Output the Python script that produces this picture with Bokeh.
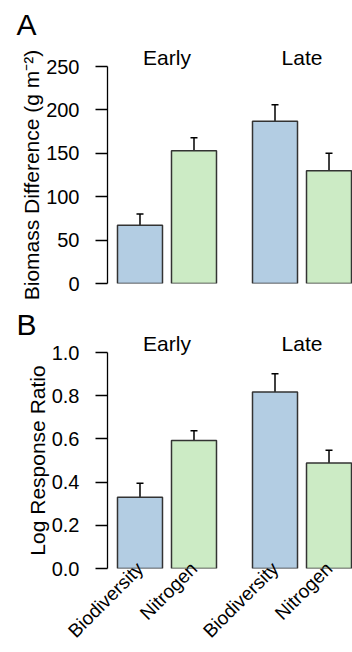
import math
from bokeh.plotting import figure
from bokeh.models import (Range1d, FixedTicker, PrintfTickFormatter, Whisker, TeeHead,
                          ColumnDataSource, LinearAxis)
from bokeh.layouts import column
from bokeh.embed import file_html
from bokeh.resources import INLINE

# ---------------- data ----------------
periods = ["Early", "Late"]
treatments = ["Biodiversity", "Nitrogen"]
bar_period = ["Early", "Early", "Late", "Late"]
bar_treatment = ["Biodiversity", "Nitrogen", "Biodiversity", "Nitrogen"]
biomass_mean = [67, 153, 187, 130]
biomass_se = [13, 15, 19, 20]
lrr_mean = [0.33, 0.593, 0.817, 0.488]
lrr_se = [0.065, 0.045, 0.085, 0.06]
biomass_ticks = [0, 50, 100, 150, 200, 250]
lrr_ticks = [0.0, 0.2, 0.4, 0.6, 0.8, 1.0]

# ---------------- styling ----------------
FONT = "Liberation Sans"
colors = {"Biodiversity": "#b3cde3", "Nitrogen": "#ccebc5"}
EDGE = "#333333"

# bar positions like R barplot(beside=TRUE, space=c(0.2,0.8))
within, between, bw = 0.2, 0.8, 1.0
xs = []
cur = 0.0
prev = None
for per in bar_period:
    gap = within if per == prev else between
    left = cur + gap
    xs.append(left + bw / 2)
    cur = left + bw
    prev = per
group_centers = [sum(x for x, p in zip(xs, bar_period) if p == g) /
                 bar_period.count(g) for g in periods]


def bare_axis(ticks, labels, size):
    a = LinearAxis(ticker=FixedTicker(ticks=ticks),
                   major_label_overrides={t: l for t, l in zip(ticks, labels)})
    a.axis_line_color = None
    a.major_tick_line_color = None
    a.minor_tick_line_color = None
    a.major_tick_out = 0
    a.major_tick_in = 0
    a.minor_tick_out = 0
    a.minor_tick_in = 0
    a.major_label_text_font = FONT
    a.major_label_text_font_size = size
    a.major_label_text_color = "black"
    return a


def make_panel(letter, means, ses, ylim, ticks, ylabel, lab_size, fmt, height,
               top_border, bottom_border, title_standoff, show_xlabels):
    p = figure(width=352, height=height, output_backend="svg", toolbar_location=None,
               x_range=Range1d(0.578, 6.022), y_range=Range1d(*ylim),
               x_axis_location=None, min_border_left=107, min_border_right=0,
               min_border_top=top_border, min_border_bottom=bottom_border)
    p.outline_line_color = None
    p.grid.visible = False
    p.background_fill_color = "white"
    p.border_fill_color = "white"

    p.title.text = letter
    p.title.text_font = FONT
    p.title.text_font_size = "30px"
    p.title.text_font_style = "normal"
    p.title.text_color = "black"
    p.title.align = "left"
    p.title.offset = -91
    p.title.standoff = title_standoff

    src = ColumnDataSource(dict(
        x=xs, top=means, upper=[m + s for m, s in zip(means, ses)],
        color=[colors[t] for t in bar_treatment]))
    p.vbar(x="x", top="top", bottom=0, width=bw, source=src, fill_color="color",
           line_color=EDGE, line_width=1.5)
    w = Whisker(base="x", lower="top", upper="upper", source=src, dimension="height",
                line_color="black", line_width=1.5,
                upper_head=TeeHead(size=7, line_color="black", line_width=1.5),
                lower_head=None)
    p.add_layout(w)

    ax = p.yaxis[0]
    ax.ticker = FixedTicker(ticks=ticks)
    ax.formatter = PrintfTickFormatter(format=fmt)
    ax.axis_label = ylabel
    ax.axis_label_text_font = FONT
    ax.axis_label_text_font_size = lab_size
    ax.axis_label_text_font_style = "normal"
    ax.axis_label_text_color = "black"
    ax.axis_label_standoff = 0
    ax.major_label_text_font = FONT
    ax.major_label_text_font_size = "20px"
    ax.major_label_text_color = "black"
    ax.major_label_standoff = 16
    ax.major_tick_out = 12
    ax.major_tick_in = 0
    ax.minor_tick_out = 0
    ax.minor_tick_in = 0
    ax.axis_line_color = "black"
    ax.axis_line_width = 1.3
    ax.major_tick_line_color = "black"
    ax.major_tick_line_width = 1.3

    # group labels (Early / Late) on an axis above the frame
    top_ax = bare_axis(group_centers, periods, "21px")
    top_ax.major_label_standoff = -2
    p.add_layout(top_ax, "above")

    if show_xlabels:
        bot_ax = bare_axis(xs, bar_treatment, "19px")
        bot_ax.major_label_standoff = -3
        bot_ax.major_label_orientation = math.pi / 4
        p.add_layout(bot_ax, "below")
    return p


pa = make_panel("A", biomass_mean, biomass_se, (0, 250), biomass_ticks,
                "Biomass Difference (g m\u207b\u00b2)", "21px", "%d", 300, 66, 17, 4,
                False)
pb = make_panel("B", lrr_mean, lrr_se, (0, 1.0), lrr_ticks,
                "Log Response Ratio", "21px", "%.1f", 352, 52, 83, -25, True)

layout = column(pa, pb, spacing=0)
open("out.html", "w").write(file_html(layout, INLINE))
